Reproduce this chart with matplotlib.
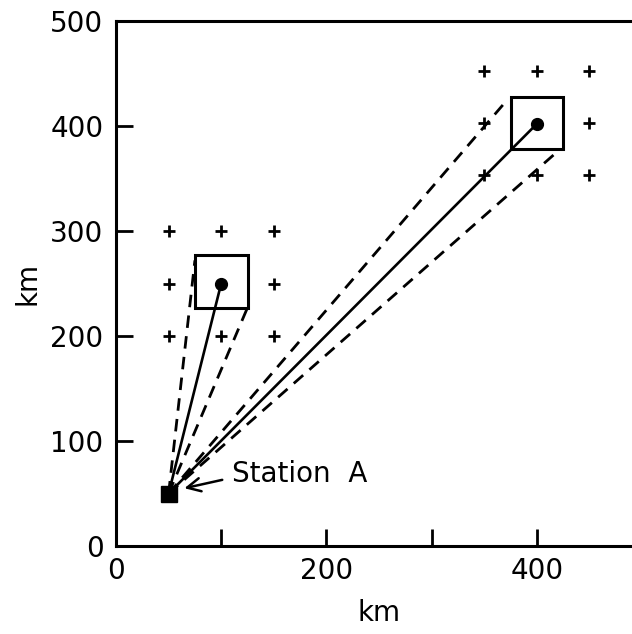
import matplotlib
matplotlib.use("Agg")
import matplotlib.pyplot as plt
from matplotlib.patches import Rectangle

plt.rcParams['font.family'] = ['DejaVu Sans']

# station and targets (km)
station_x, station_y = 50, 50
target_x = [100, 400]
target_y = [250, 402]

# search boxes around targets (lower-left corner, size)
box_x0 = [75, 375]
box_y0 = [227, 378]
box_w = 50

# dashed rays to box corners
dash_end_x = [75, 125, 372, 420]
dash_end_y = [272, 227, 425, 376]

# grid points shown as +
cross_x = [50, 100, 150, 50, 150, 50, 100, 150,
           350, 400, 450, 350, 450, 350, 400, 450]
cross_y = [300, 300, 300, 250, 250, 200, 200, 200,
           452, 452, 452, 403, 403, 353, 353, 353]

xticks = [0, 100, 200, 300, 400, 500]
xticklabels = ['0', '', '200', '', '400', '']
yticks = [0, 100, 200, 300, 400, 500]

fig = plt.figure(figsize=(6.32, 6.34), dpi=100)
ax = fig.add_axes([116/632, 88/634, 526/632, 525/634])

ax.plot(cross_x, cross_y, '+', color='black', ms=9, mew=2.0)

for ex, ey in zip(dash_end_x, dash_end_y):
    ax.plot([station_x, ex], [station_y, ey], color='black', lw=2.0,
            dashes=(4.5, 3.0))

for tx, ty in zip(target_x, target_y):
    ax.plot([station_x, tx], [station_y, ty], color='black', lw=1.9)

for bx, by in zip(box_x0, box_y0):
    ax.add_patch(Rectangle((bx, by), box_w, box_w, fill=False,
                           ec='black', lw=2.2, zorder=3))

ax.plot(target_x, target_y, 'o', color='black', ms=8.5, zorder=4)
ax.plot(station_x, station_y, 's', color='black', ms=11, zorder=4)

ax.annotate('', xy=(65, 55), xytext=(101, 63),
            arrowprops=dict(arrowstyle='->', lw=1.8, color='black',
                            mutation_scale=24, shrinkA=0, shrinkB=0))
ax.text(110, 69, 'Station  A', fontsize=20, va='center', ha='left')

ax.set_xlim(0, 500)
ax.set_ylim(0, 500)
ax.set_xticks(xticks)
ax.set_xticklabels(xticklabels)
ax.set_yticks(yticks)
ax.tick_params(direction='in', length=12, width=2.0, labelsize=20)
ax.tick_params(axis='x', pad=8)
ax.tick_params(axis='y', pad=9)
for sp in ax.spines.values():
    sp.set_linewidth(2.2)

ax.set_xlabel('km', fontsize=20, labelpad=10)
ax.set_ylabel('km', fontsize=20, labelpad=6)

fig.savefig('out.png', dpi=100)
